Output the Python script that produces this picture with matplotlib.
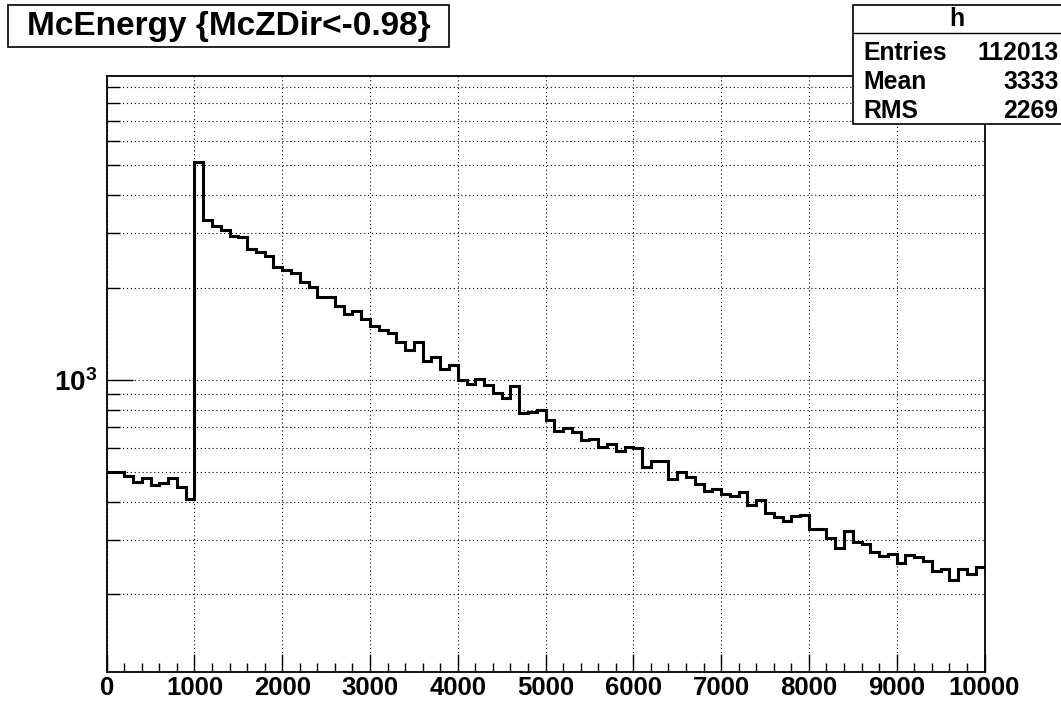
import numpy as np
import matplotlib
matplotlib.use("Agg")
import matplotlib.pyplot as plt
from matplotlib.patches import Rectangle
from matplotlib.lines import Line2D
from matplotlib.ticker import NullFormatter

plt.rcParams['font.family'] = ['Liberation Sans', 'DejaVu Sans']
plt.rcParams['font.weight'] = 'bold'
plt.rcParams['mathtext.fontset'] = 'custom'
plt.rcParams['mathtext.bf'] = 'Liberation Sans:bold'
plt.rcParams['mathtext.rm'] = 'Liberation Sans:bold'

# histogram contents, 100 bins from 0 to 10000
counts = [500, 500, 487, 464, 478, 453, 463, 478, 449, 410,
          5140, 3318, 3175, 3081, 2945, 2917, 2666, 2618, 2535, 2339,
          2281, 2236, 2089, 2013, 1868, 1860, 1741, 1640, 1678, 1580,
          1499, 1455, 1419, 1333, 1252, 1327, 1156, 1191, 1083, 1119,
          1000, 970, 1005, 963, 905, 876, 956, 779, 788, 798,
          741, 684, 696, 679, 638, 641, 604, 619, 588, 604,
          602, 519, 546, 543, 475, 500, 482, 458, 433, 440,
          425, 420, 432, 390, 406, 368, 357, 347, 361, 363,
          326, 326, 305, 283, 321, 297, 292, 274, 267, 271,
          253, 268, 265, 257, 239, 242, 223, 242, 233, 245]
x_lo, x_hi = 0, 10000
x_ticks = [0, 1000, 2000, 3000, 4000, 5000, 6000, 7000, 8000, 9000, 10000]
y_lo, y_hi = 112, 9800

title = "McEnergy {McZDir<-0.98}"
stats_name = "h"
stats_labels = ["Entries", "Mean", "RMS"]
stats_values = ["112013", "3333", "2269"]

W, H = 1061, 701


def fx(x):
    return x / W


def fy(y):
    return 1 - y / H


fig = plt.figure(figsize=(W / 100, H / 100), dpi=100)
ax = fig.add_axes([fx(106.7), fy(671.7), fx(984.5) - fx(106.7), fy(75.7) - fy(671.7)])

edges = np.linspace(x_lo, x_hi, len(counts) + 1)
ax.stairs(counts, edges, baseline=None, color='black', linewidth=2.2)

ax.set_yscale('log')
ax.set_xlim(x_lo, x_hi)
ax.set_ylim(y_lo, y_hi)

ax.set_xticks(x_ticks)
ax.set_xticklabels([str(t) for t in x_ticks])
ax.set_xticks(np.arange(x_lo, x_hi + 1, 200), minor=True)
ax.set_yticks([1000])
ax.set_yticklabels([r'$\mathbf{10^{3}}$'])
ax.set_yticks([m * 10 ** e for e in (2, 3) for m in range(2, 10)], minor=True)
ax.yaxis.set_minor_formatter(NullFormatter())

ax.tick_params(axis='x', which='major', direction='in', length=13, width=1, labelsize=18.5, pad=3)
ax.tick_params(axis='x', which='minor', direction='in', length=6.5, width=1)
ax.tick_params(axis='y', which='major', direction='in', length=18.7, width=1, labelsize=20, pad=7)
ax.tick_params(axis='y', which='minor', direction='in', length=9.4, width=1)
ax.tick_params(top=False, right=False, which='both')

ax.grid(True, axis='x', which='major', color='black', linestyle=(0, (1, 2.5)), linewidth=0.8)
ax.grid(True, axis='y', which='both', color='black', linestyle=(0, (1, 2.5)), linewidth=0.8)
for s in ax.spines.values():
    s.set_linewidth(1.3)

# title box
fig.add_artist(Rectangle((fx(8), fy(47)), fx(449) - fx(8), fy(5) - fy(47),
                         transform=fig.transFigure, facecolor='white', edgecolor='black', linewidth=1.2))
fig.text(fx(228.5), fy(26.5), title, ha='center', va='center', fontsize=24, fontweight='bold')

# stats box
fig.add_artist(Rectangle((fx(853.3), fy(124)), fx(1070) - fx(853.3), fy(5) - fy(124),
                         transform=fig.transFigure, facecolor='white', edgecolor='black', linewidth=1.2,
                         clip_on=False, zorder=5))
fig.add_artist(Line2D([fx(853.3), 1], [fy(32.5), fy(32.5)], transform=fig.transFigure,
                      color='black', linewidth=1.0, zorder=6))
fig.text(fx(957), fy(19), stats_name, ha='center', va='center', fontsize=17.8, fontweight='bold', zorder=7)
for i, (lab, val) in enumerate(zip(stats_labels, stats_values)):
    yy = fy(52.5 + 29.5 * i)
    fig.text(fx(863), yy, lab, ha='left', va='center', fontsize=17.8, fontweight='bold', zorder=7)
    fig.text(fx(1058.5), yy, val, ha='right', va='center', fontsize=17.8, fontweight='bold', zorder=7)

fig.savefig("out.png", dpi=100)
